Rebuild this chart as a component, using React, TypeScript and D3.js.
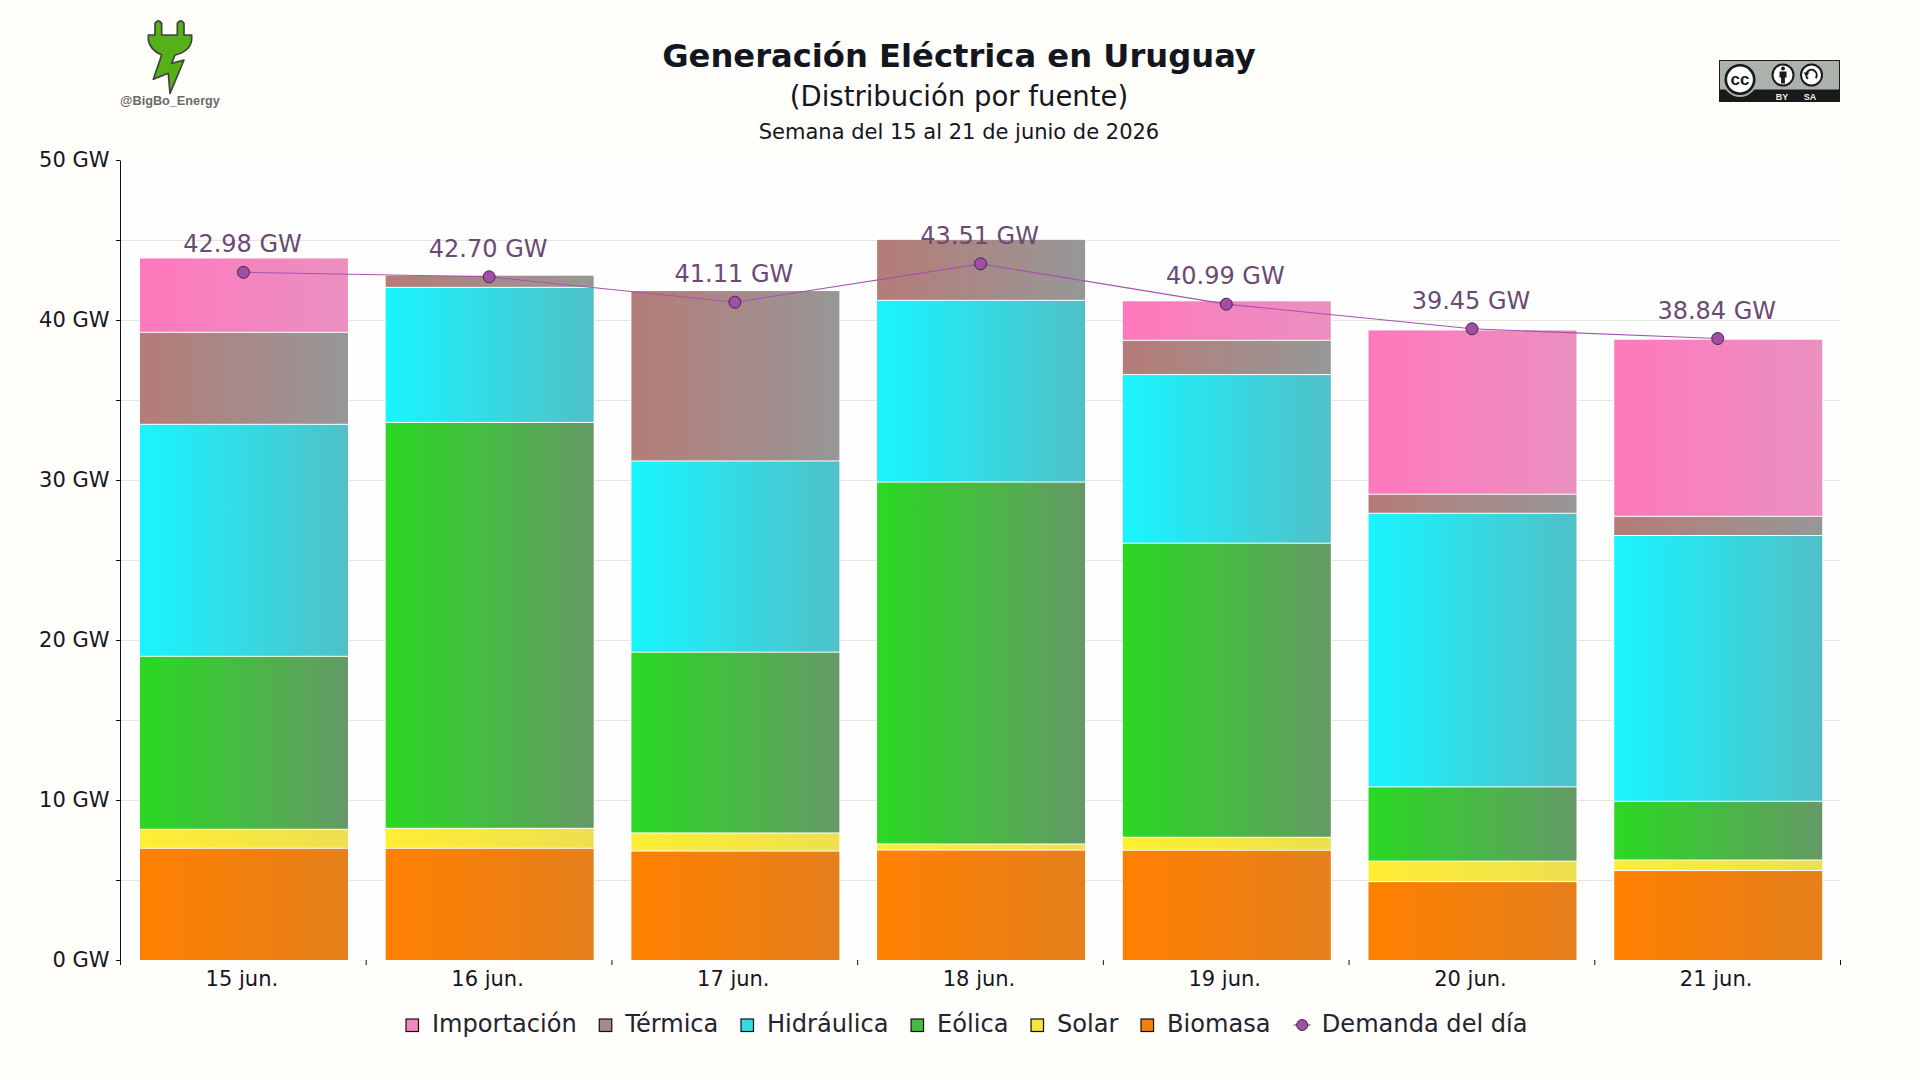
import * as d3 from 'd3';
import React, { useEffect, useRef } from 'react';

const days = ['15 jun.', '16 jun.', '17 jun.', '18 jun.', '19 jun.', '20 jun.', '21 jun.'];
const biomasa = [6.98, 6.98, 6.81, 6.87, 6.86, 4.9, 5.59];
const solar = [1.19, 1.25, 1.13, 0.38, 0.81, 1.28, 0.66];
const eolica = [10.81, 25.37, 11.3, 22.62, 18.38, 4.64, 3.67];
const hidraulica = [14.5, 8.44, 11.95, 11.36, 10.54, 17.1, 16.61];
const termica = [5.75, 0.76, 10.65, 3.81, 2.14, 1.19, 1.2];
const importacion = [4.65, 0, 0, 0, 2.47, 10.27, 11.07];
const demanda = [42.98, 42.7, 41.11, 43.51, 40.99, 39.45, 38.84];

// bottom of the stack first
const seriesNames = ['Biomasa', 'Solar', 'Eólica', 'Hidráulica', 'Térmica', 'Importación'];
const seriesValues = [biomasa, solar, eolica, hidraulica, termica, importacion];
const gradientLeft = ['#ff8000', '#ffee33', '#2ad922', '#18f5ff', '#b57c78', '#ff78bd'];
const gradientRight = ['#e5801c', '#eddf50', '#659966', '#50c0c8', '#979797', '#ea90c0'];
const swatchColors = ['#f5800e', '#f4e63f', '#46b944', '#30dce6', '#a68a87', '#f585c0'];

const App: React.FC = () => {
    const svgRef = useRef<SVGSVGElement | null>(null);

    useEffect(() => {
        const font = '"DejaVu Sans", sans-serif';
        const ink = '#14161f';
        const margin = { top: 160, right: 80, bottom: 120, left: 120 };
        const width = 1920 - margin.left - margin.right;
        const height = 1080 - margin.top - margin.bottom;

        // Clear the SVG to avoid duplicate renderings
        d3.select(svgRef.current).selectAll('*').remove();

        const root = d3.select(svgRef.current).attr('width', 1920).attr('height', 1080);
        root.append('rect').attr('width', 1920).attr('height', 1080).attr('fill', '#fffefa');

        const defs = root.append('defs');
        seriesNames.forEach((name, i) => {
            const grad = defs.append('linearGradient').attr('id', `grad-${i}`);
            grad.append('stop').attr('offset', '0%').attr('stop-color', gradientLeft[i]);
            grad.append('stop').attr('offset', '100%').attr('stop-color', gradientRight[i]);
        });

        // Titles
        const titles = [
            { text: 'Generación Eléctrica en Uruguay', y: 66.5, size: 32.2, weight: 700 },
            { text: '(Distribución por fuente)', y: 106, size: 27.5, weight: 400 },
            { text: 'Semana del 15 al 21 de junio de 2026', y: 139, size: 21, weight: 400 },
        ];
        root.selectAll('text.title')
            .data(titles)
            .enter()
            .append('text')
            .attr('class', 'title')
            .attr('x', 959)
            .attr('y', d => d.y)
            .attr('text-anchor', 'middle')
            .attr('font-family', font)
            .attr('font-size', d => d.size)
            .attr('font-weight', d => d.weight)
            .attr('fill', ink)
            .text(d => d.text);

        // Logo (top left)
        root.append('path')
            .attr('transform', 'translate(120,10) scale(0.3333)')
            .attr('d', 'M105,75 L105,40 Q115,25 125,40 L125,75 L172,75 L172,40 Q182,25 192,40 L192,75 L215,75 L215,90 Q210,125 165,135 L155,160 L192,150 L150,250 L145,190 L100,208 L125,135 Q90,120 85,90 L85,75 Z')
            .attr('fill', '#56b017')
            .attr('stroke', '#3c423c')
            .attr('stroke-width', 5)
            .attr('stroke-linejoin', 'round');
        root.append('text')
            .attr('x', 170)
            .attr('y', 105)
            .attr('text-anchor', 'middle')
            .attr('font-family', '"Liberation Sans", sans-serif')
            .attr('font-weight', 700)
            .attr('font-size', 12.7)
            .attr('fill', '#6a6a6a')
            .text('@BigBo_Energy');

        // CC BY-SA badge (top right)
        const cc = root.append('g').attr('transform', 'translate(1719,60)');
        cc.append('rect').attr('x', 0.5).attr('y', 0.5).attr('width', 120).attr('height', 41).attr('fill', '#aab2ab').attr('stroke', '#1a1a1a');
        cc.append('rect').attr('x', 0).attr('y', 29.5).attr('width', 121).attr('height', 12.5).attr('fill', '#1a1a1a');
        cc.append('circle').attr('cx', 21).attr('cy', 19.5).attr('r', 17.5).attr('fill', '#aab2ab');
        cc.append('circle').attr('cx', 21).attr('cy', 19.5).attr('r', 14.2).attr('fill', '#fff').attr('stroke', '#1a1a1a').attr('stroke-width', 2.6);
        cc.append('text').attr('x', 21).attr('y', 25).attr('text-anchor', 'middle').attr('font-family', '"Liberation Sans", sans-serif').attr('font-weight', 700).attr('font-size', 17).attr('fill', '#1a1a1a').text('cc');
        [64, 92.5].forEach(cx => {
            cc.append('circle').attr('cx', cx).attr('cy', 15).attr('r', 10.5).attr('fill', '#fff').attr('stroke', '#1a1a1a').attr('stroke-width', 2);
        });
        cc.append('circle').attr('cx', 64).attr('cy', 8.5).attr('r', 2).attr('fill', '#1a1a1a');
        cc.append('path').attr('d', 'M60.5,11.5 h7 v6 h-1.6 v6 h-3.8 v-6 h-1.6 Z').attr('fill', '#1a1a1a');
        cc.append('path').attr('d', d3.arc()({ innerRadius: 4.2, outerRadius: 6.2, startAngle: -2.4, endAngle: 2.2 } as any) as string)
            .attr('transform', 'translate(92.5,15)').attr('fill', '#1a1a1a');
        cc.append('path').attr('d', 'M84.5,12.5 h6 l-3,4 Z').attr('fill', '#1a1a1a');
        cc.append('text').attr('x', 63).attr('y', 39.5).attr('text-anchor', 'middle').attr('font-family', '"Liberation Sans", sans-serif').attr('font-weight', 700).attr('font-size', 9).attr('fill', '#eee').text('BY');
        cc.append('text').attr('x', 91).attr('y', 39.5).attr('text-anchor', 'middle').attr('font-family', '"Liberation Sans", sans-serif').attr('font-weight', 700).attr('font-size', 9).attr('fill', '#eee').text('SA');

        const svg = root.append('g').attr('transform', `translate(${margin.left},${margin.top})`);

        // Scales
        const x = d3.scaleBand<string>().domain(days).range([0, width]).paddingInner(0.1535).paddingOuter(0.0768);
        const y = d3.scaleLinear().domain([0, 50]).range([height, 0]);

        svg.append('rect').attr('width', width).attr('height', height).attr('fill', '#fffeff');

        // Grid every 5 GW
        svg.append('g')
            .attr('transform', 'translate(0,0.5)')
            .selectAll('line')
            .data(d3.range(5, 50, 5))
            .enter()
            .append('line')
            .attr('x1', 0)
            .attr('x2', width)
            .attr('y1', d => y(d))
            .attr('y2', d => y(d))
            .attr('stroke', '#e6e6df')
            .attr('stroke-width', 1);

        // Stacked bars
        const rows = days.map((day, i) => {
            const row: Record<string, any> = { day };
            seriesNames.forEach((name, s) => {
                row[name] = seriesValues[s][i];
            });
            return row;
        });
        const stacked = d3.stack<any>().keys(seriesNames)(rows);
        const barShift = 1.1;

        // white halo that interrupts the grid next to the bars
        svg.append('g')
            .selectAll('rect')
            .data(rows)
            .enter()
            .append('rect')
            .attr('x', d => (x(d.day) as number) + barShift - 1)
            .attr('width', x.bandwidth() + 2)
            .attr('y', (d, i) => y(stacked[stacked.length - 1][i][1]) - 1)
            .attr('height', (d, i) => height - y(stacked[stacked.length - 1][i][1]) + 1)
            .attr('fill', '#ffffff');

        stacked.forEach((layer, s) => {
            svg.append('g')
                .selectAll('rect')
                .data(layer.filter(d => d[1] - d[0] > 0))
                .enter()
                .append('rect')
                .attr('x', d => (x(d.data.day) as number) + barShift)
                .attr('width', x.bandwidth())
                .attr('y', d => y(d[1]) + 0.5)
                .attr('height', d => y(d[0]) - y(d[1]) - (s === 0 ? 0.5 : 1))
                .attr('fill', `url(#grad-${s})`);
        });

        // Axes
        const yAxis = svg.append('g').call(
            d3.axisLeft(y)
                .tickValues(d3.range(0, 55, 5))
                .tickSize(4)
                .tickSizeOuter(0)
                .tickFormat(d => (+d % 10 === 0 ? `${d} GW` : '')) as any,
        );
        yAxis.selectAll('text').attr('font-family', font).attr('font-size', 21).attr('fill', ink).attr('dx', -3.5).attr('dy', '0.31em');
        yAxis.selectAll('line, path').attr('stroke', '#111');

        const edges = d3.scaleLinear().domain([0, days.length]).range([0, width]);
        const edgeAxis = svg.append('g')
            .attr('transform', `translate(0,${height})`)
            .call(d3.axisBottom(edges).tickValues(d3.range(0, days.length + 1)).tickSize(5).tickSizeOuter(0).tickFormat(() => '') as any);
        edgeAxis.select('.domain').remove();
        edgeAxis.selectAll('line').attr('stroke', '#111');

        const xAxis = svg.append('g')
            .attr('transform', `translate(-1,${height})`)
            .call(d3.axisBottom(x).tickSize(0).tickPadding(11) as any);
        xAxis.select('.domain').remove();
        xAxis.selectAll('text').attr('font-family', font).attr('font-size', 21).attr('fill', ink);

        // Demand line
        const cx = (d: string) => (x(d) as number) + x.bandwidth() / 2 + 0.6;
        const line = d3.line<number>().x((d, i) => cx(days[i])).y(d => y(d));
        svg.append('path')
            .attr('d', line(demanda))
            .attr('fill', 'none')
            .attr('stroke', '#a653ad')
            .attr('stroke-width', 1.1);
        svg.selectAll('circle.demand')
            .data(demanda)
            .enter()
            .append('circle')
            .attr('class', 'demand')
            .attr('cx', (d, i) => cx(days[i]))
            .attr('cy', d => y(d))
            .attr('r', 6)
            .attr('fill', '#a04fa5')
            .attr('stroke', '#3d2a4d')
            .attr('stroke-width', 1);
        svg.selectAll('text.demand-label')
            .data(demanda)
            .enter()
            .append('text')
            .attr('class', 'demand-label')
            .attr('x', (d, i) => cx(days[i]) - 1)
            .attr('y', d => y(d) - 20)
            .attr('text-anchor', 'middle')
            .attr('font-family', font)
            .attr('font-size', 24)
            .attr('fill', '#6b4a73')
            .text(d => `${d.toFixed(2)} GW`);

        // Legend: items laid out from their measured text
        const legend = root.append('g').attr('transform', 'translate(0,1024)');
        let cursor = 406;
        const addLabel = (label: string, at: number) => {
            const t = legend.append('text')
                .attr('x', at)
                .attr('y', 8)
                .attr('font-family', font)
                .attr('font-size', 24.1)
                .attr('fill', '#222430')
                .text(label);
            return (t.node() as SVGTextElement).getComputedTextLength();
        };
        d3.range(seriesNames.length - 1, -1, -1).forEach(s => {
            legend.append('rect')
                .attr('x', cursor)
                .attr('y', -5)
                .attr('width', 12.5)
                .attr('height', 12.5)
                .attr('fill', swatchColors[s])
                .attr('stroke', '#111')
                .attr('stroke-width', 1.2);
            const w = addLabel(seriesNames[s], cursor + 26);
            cursor += 26 + w + 22.6;
        });
        const markerX = cursor + 9;
        legend.append('line').attr('x1', markerX - 8.5).attr('x2', markerX + 8.5).attr('y1', 1).attr('y2', 1).attr('stroke', '#7d4a85').attr('stroke-width', 1.2);
        legend.append('circle').attr('cx', markerX).attr('cy', 1).attr('r', 5.5).attr('fill', '#a04fa5').attr('stroke', '#3d2a4d');
        addLabel('Demanda del día', markerX + 19.6);
    }, []);

    return <svg ref={svgRef} style={{ position: 'absolute', left: 0, top: 0 }}></svg>;
};

export default App;
